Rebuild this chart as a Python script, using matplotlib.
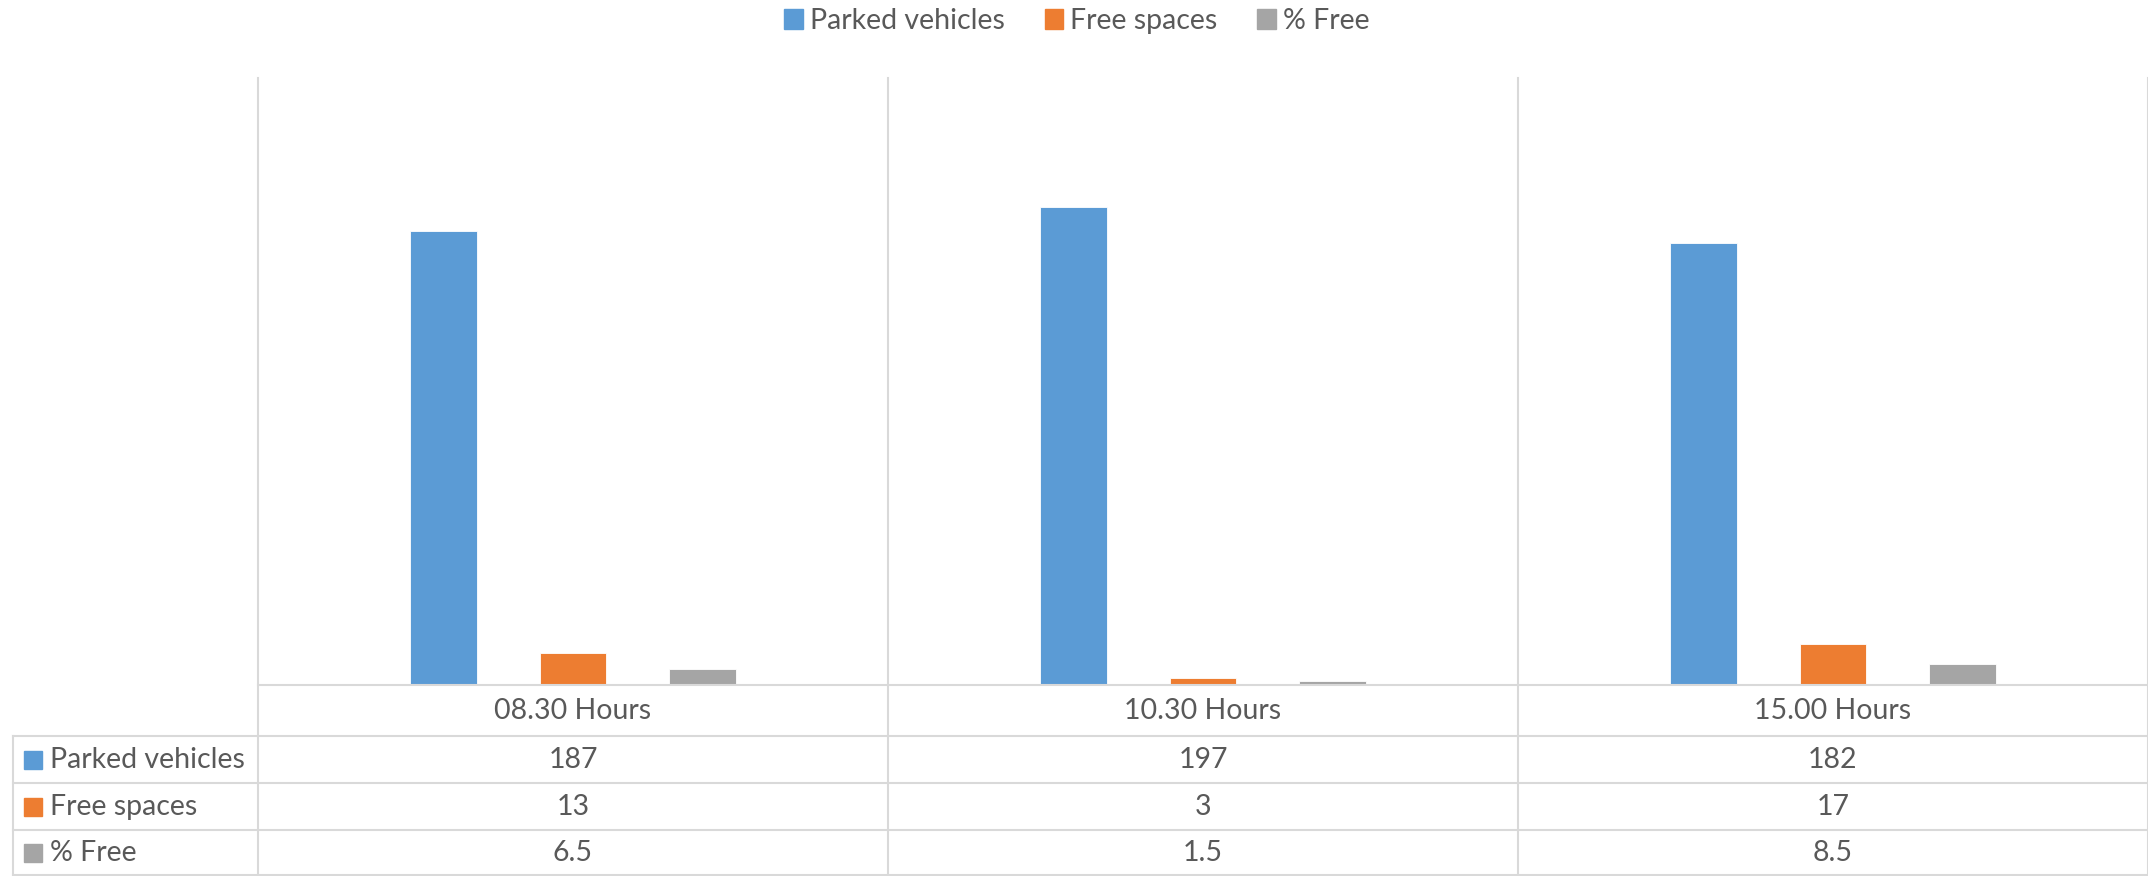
import matplotlib
matplotlib.use("Agg")
import matplotlib.pyplot as plt
from matplotlib.lines import Line2D
from matplotlib.patches import Rectangle, Patch
import matplotlib.transforms as mtrans

# ---- data ----
categories = ["08.30 Hours", "10.30 Hours", "15.00 Hours"]
series_names = ["Parked vehicles", "Free spaces", "% Free"]
parked = [187, 197, 182]
free_spaces = [13, 3, 17]
pct_free = [6.5, 1.5, 8.5]
series_values = [parked, free_spaces, pct_free]
colors = ["#5B9BD5", "#ED7D31", "#A5A5A5"]

plt.rcParams['font.family'] = ['Lato', 'DejaVu Sans']
TXT = "#595959"
GRID = "#D9D9D9"
FS = 20.5

W, H = 2148, 876
fig = plt.figure(figsize=(W / 100, H / 100), dpi=100)
fx = lambda p: p / W
fy = lambda p: 1 - p / H

ax = fig.add_axes([fx(258), fy(685), (W - 258) / W, (685 - 78) / H])
x = list(range(len(categories)))
offsets = [-0.206, 0.0, 0.206]
bw = 0.106
for vals, off, c, name in zip(series_values, offsets, colors, series_names):
    ax.bar([i + off for i in x], vals, width=bw, color=c, edgecolor="white",
           linewidth=0.6, label=name, zorder=3)
ax.set_xlim(-0.5, len(categories) - 0.5)
ax.set_ylim(0, 250)
for s in ax.spines.values():
    s.set_visible(False)
ax.set_xticks([])
ax.set_yticks([])
ax.patch.set_alpha(0)

blend = mtrans.blended_transform_factory(ax.transData, fig.transFigure)

def fline(xs, ys, **kw):
    fig.add_artist(Line2D(xs, ys, transform=fig.transFigure, color=GRID,
                          linewidth=1.5, **kw))

# vertical separators
for b in [i - 0.5 for i in range(len(categories) + 1)]:
    fig.add_artist(Line2D([b, b], [fy(78), fy(876)], transform=blend,
                          color=GRID, linewidth=1.5))
# horizontal table lines
fline([fx(258), 1], [fy(685), fy(685)], zorder=5)
for yy in [736, 783, 830, 875]:
    fline([fx(13), 1], [fy(yy), fy(yy)])
fline([fx(13), fx(13)], [fy(736), fy(876)])

# header row
for i, cat in enumerate(categories):
    fig.text(i, fy(711), cat, transform=blend, ha="center", va="center",
             fontsize=FS, color=TXT)

row_centers = [760, 807, 853]
for r, (name, vals, c) in enumerate(zip(series_names, series_values, colors)):
    yc = row_centers[r]
    fig.add_artist(Rectangle((fx(24), fy(yc + 9)), 18 / W, 18 / H,
                             transform=fig.transFigure, color=c))
    fig.text(fx(50), fy(yc), name, ha="left", va="center", fontsize=FS, color=TXT)
    for i, v in enumerate(vals):
        fig.text(i, fy(yc), f"{v:g}", transform=blend, ha="center", va="center",
                 fontsize=FS, color=TXT)

handles = [Patch(color=c) for c in colors]
fig.legend(handles, series_names, loc="center", bbox_to_anchor=(1077 / W, fy(21)),
           ncol=3, frameon=False, fontsize=FS, handlelength=0.65, handleheight=0.65,
           handletextpad=0.25, columnspacing=1.4, labelcolor=TXT)

fig.savefig("out.png", dpi=100)
